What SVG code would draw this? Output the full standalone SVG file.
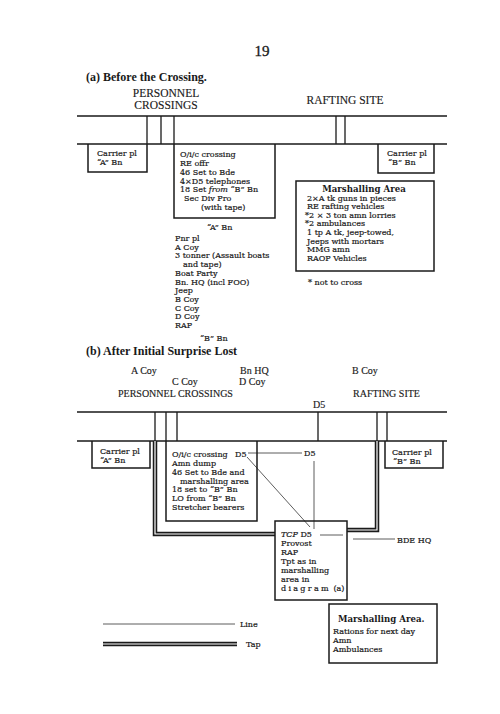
<svg xmlns="http://www.w3.org/2000/svg" width="500" height="714" viewBox="0 0 500 714">
<style>
text{font-family:"DejaVu Serif","Liberation Serif",serif;font-size:8px;fill:#1a1a1a;stroke:#1a1a1a;stroke-width:0.2}
.h{font-family:"Liberation Serif",serif;font-weight:bold;font-size:12px;stroke-width:0}
.pg{font-family:"Liberation Serif",serif;font-size:15px;stroke-width:0.3}
.cap{font-family:"Liberation Serif",serif;font-size:11.5px;stroke-width:0.15}
.cap2{font-family:"Liberation Serif",serif;font-size:10px;stroke-width:0.15}
.bh{font-weight:bold;font-size:8.6px;stroke-width:0}
.box{fill:none;stroke:#1a1a1a;stroke-width:1.5}
.ln{fill:none;stroke:#1a1a1a;stroke-width:1.3}
.thin{fill:none;stroke:#333;stroke-width:0.8}
.tapo{fill:none;stroke:#1a1a1a;stroke-width:4.5}
.tapi{fill:none;stroke:#fff;stroke-width:1.2}
</style>
<defs>
<path id="tapL" d="M155,441 V534 H275"/>
<path id="tapR" d="M377,441 V530 H347"/>
<path id="tapLeg" d="M103,644 H237"/>
</defs>
<rect width="500" height="714" fill="#fff"/>

<g id="titles">
<text class="pg" x="262" y="56" text-anchor="middle">19</text>
<text class="h" x="86" y="81">(a) Before the Crossing.</text>
<text class="cap" x="166" y="97" text-anchor="middle">PERSONNEL</text>
<text class="cap" x="166" y="109" text-anchor="middle">CROSSINGS</text>
<text class="cap" x="345" y="104" text-anchor="middle">RAFTING SITE</text>
<text class="h" x="86" y="355">(b) After Initial Surprise Lost</text>
<text class="cap2" x="131" y="374">A Coy</text>
<text class="cap2" x="240" y="374">Bn HQ</text>
<text class="cap2" x="352" y="374">B Coy</text>
<text class="cap2" x="172" y="385">C Coy</text>
<text class="cap2" x="239" y="385">D Coy</text>
<text class="cap2" x="118" y="397">PERSONNEL CROSSINGS</text>
<text class="cap2" x="353" y="397">RAFTING SITE</text>
<text class="cap2" x="313" y="408">D5</text>
</g>

<g id="connectors">
<path class="ln" d="M77,116 H447 M77,144 H447 M147,116 V144 M161,116 V144 M174,116 V144 M336,116 V144 M345,116 V144"/>
<path class="ln" d="M77,412 H447 M77,441 H447 M155,412 V441 M166,412 V441 M177,412 V441 M318,412 V441 M377,412 V441 M387,412 V441"/>
<path class="thin" d="M248,453 H302 M247,457 L310,527 M314,461 V529 M320,535 H343 M353,539 H395"/>
<use href="#tapL" class="tapo"/><use href="#tapL" class="tapi"/>
<use href="#tapR" class="tapo"/><use href="#tapR" class="tapi"/>
</g>

<g id="carrierA_a">
<path class="box" d="M88,144 V172 H147 V144"/>
<text x="97" y="156">Carrier pl</text>
<text x="97" y="165">“A” Bn</text>
</g>

<g id="oic_a">
<path class="box" d="M174,144 V218 H275 V144"/>
<text x="180" y="157">O/i/c crossing</text>
<text x="180" y="165.8">RE offr</text>
<text x="180" y="174.7">46 Set to Bde</text>
<text x="180" y="183.5">4×D5 telephones</text>
<text x="180" y="192.3">18 Set <tspan font-style="italic">from</tspan> “B” Bn</text>
<text x="184" y="201.2">Sec Div Pro</text>
<text x="201" y="210">(with tape)</text>
</g>

<g id="carrierB_a">
<path class="box" d="M378,144 V173 H434 V144"/>
<text x="387" y="156">Carrier pl</text>
<text x="388" y="165">“B” Bn</text>
</g>

<g id="marshalling_a">
<rect class="box" x="296" y="181" width="138" height="90"/>
<text class="bh" x="364" y="192" text-anchor="middle">Marshalling Area</text>
<text x="307" y="200.5">2×A tk guns in pieces</text>
<text x="307" y="209.1">RE rafting vehicles</text>
<text x="305" y="217.7">*2 × 3 ton amn lorries</text>
<text x="305" y="226.3">*2 ambulances</text>
<text x="307" y="234.9">1 tp A tk, jeep-towed,</text>
<text x="307" y="243.5">Jeeps with mortars</text>
<text x="307" y="252.1">MMG amn</text>
<text x="307" y="260.7">RAOP Vehicles</text>
<text x="308" y="285">* not to cross</text>
</g>

<g id="column_a">
<text x="207" y="230">“A” Bn</text>
<text x="175" y="241">Pnr pl</text>
<text x="175" y="249.7">A Coy</text>
<text x="175" y="258.4">3 tonner (Assault boats</text>
<text x="183" y="267.1">and tape)</text>
<text x="175" y="275.8">Boat Party</text>
<text x="175" y="284.5">Bn. HQ (incl FOO)</text>
<text x="175" y="293.2">Jeep</text>
<text x="175" y="301.9">B Coy</text>
<text x="175" y="310.6">C Coy</text>
<text x="175" y="319.3">D Coy</text>
<text x="175" y="328">RAP</text>
<text x="200" y="341">“B” Bn</text>
</g>

<g id="carrierA_b">
<path class="box" d="M92,441 V468 H150 V441"/>
<text x="100" y="454">Carrier pl</text>
<text x="100" y="463">“A” Bn</text>
</g>

<g id="oic_b">
<path class="box" d="M166,441 V521 H257 V441"/>
<text x="172" y="457">O/i/c crossing</text>
<text x="235" y="457">D5</text>
<text x="172" y="465.8">Amn dump</text>
<text x="172" y="474.7">46 Set to Bde and</text>
<text x="180" y="483.5">marshalling area</text>
<text x="172" y="492.3">18 set to “B” Bn</text>
<text x="172" y="501.2">LO from “B” Bn</text>
<text x="172" y="510">Stretcher bearers</text>
</g>

<g id="d5_b">
<text x="304" y="456">D5</text>
</g>

<g id="carrierB_b">
<path class="box" d="M385,441 V468 H443 V441"/>
<text x="392" y="455">Carrier pl</text>
<text x="393" y="464">“B” Bn</text>
</g>

<g id="tcp">
<rect class="box" x="275" y="521" width="72" height="79"/>
<text x="281" y="537"><tspan font-style="italic">TCP</tspan> D5</text>
<text x="281" y="546">Provost</text>
<text x="281" y="555">RAP</text>
<text x="281" y="564">Tpt as in</text>
<text x="281" y="573">marshalling</text>
<text x="281" y="582">area in</text>
<text x="281" y="591"><tspan letter-spacing="2.3">diagram</tspan> (a)</text>
</g>

<g id="bdehq">
<text x="397" y="543">BDE HQ</text>
</g>

<g id="legend">
<path class="thin" d="M103,624 H235"/>
<text x="240" y="627">Line</text>
<use href="#tapLeg" class="tapo"/><use href="#tapLeg" class="tapi"/>
<text x="246" y="647">Tap</text>
</g>

<g id="marshalling_b">
<rect class="box" x="329" y="604" width="108" height="59"/>
<text class="bh" x="338" y="622">Marshalling Area.</text>
<text x="333" y="634">Rations for next day</text>
<text x="333" y="643">Amn</text>
<text x="333" y="652">Ambulances</text>
</g>
</svg>
